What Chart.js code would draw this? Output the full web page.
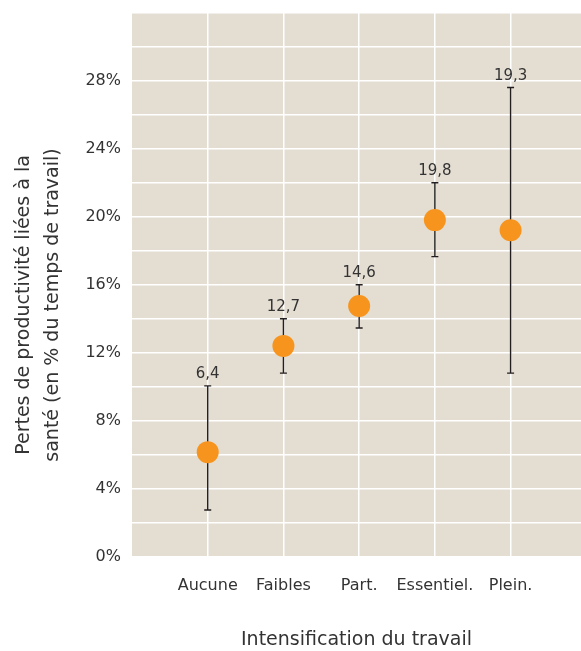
<!DOCTYPE html>
<html lang="fr">
<head>
<meta charset="utf-8">
<script src="https://cdn.jsdelivr.net/npm/chart.js@4.4.0/dist/chart.umd.min.js"></script>
<style>
  html, body { margin: 0; padding: 0; background: #fff; }
  #wrap { width: 581px; height: 651px; }
</style>
</head>
<body>
<div id="wrap"><canvas id="pertes"></canvas></div>
<script>
// valeurs (en %)
const categories = ["Aucune", "Faibles", "Part.", "Essentiel.", "Plein."];
const valeurs = [6.15, 12.4, 14.75, 19.8, 19.2];
const basses = [2.75, 10.8, 13.45, 17.65, 10.8];
const hautes = [10.05, 14.0, 16.0, 22.0, 27.6];
const etiquettes = ["6,4", "12,7", "14,6", "19,8", "19,3"];
const yLabels = [0, 4, 8, 12, 16, 20, 24, 28];

const texte = "#333333";
const police = "'DejaVu Sans', sans-serif";

const fond = {
  id: "fond",
  beforeDraw(chart) {
    const { ctx, chartArea: a } = chart;
    ctx.save();
    ctx.fillStyle = "#e4ddd2";
    ctx.fillRect(a.left, a.top, a.right - a.left, a.bottom - a.top);
    ctx.restore();
  },
};

// barres d'erreur + etiquettes au-dessus
const barres = {
  id: "barres",
  beforeDatasetsDraw(chart) {
    const { ctx, scales: { x, y } } = chart;
    ctx.save();
    ctx.strokeStyle = "#231f20";
    ctx.lineWidth = 1.4;
    categories.forEach((c, i) => {
      const px = x.getPixelForValue(i + 1);
      const yh = y.getPixelForValue(hautes[i]);
      const yb = y.getPixelForValue(basses[i]);
      ctx.beginPath();
      ctx.moveTo(px, yb);
      ctx.lineTo(px, yh);
      ctx.moveTo(px - 3.5, yh);
      ctx.lineTo(px + 3.5, yh);
      ctx.moveTo(px - 3.5, yb);
      ctx.lineTo(px + 3.5, yb);
      ctx.stroke();
      ctx.fillStyle = texte;
      ctx.font = "15px " + police;
      ctx.textAlign = "center";
      ctx.textBaseline = "alphabetic";
      ctx.fillText(etiquettes[i], px, yh - 8);
    });
    ctx.restore();
  },
  afterDraw(chart) {
    const { ctx } = chart;
    ctx.save();
    ctx.fillStyle = texte;
    ctx.font = "19px " + police;
    ctx.textAlign = "center";
    ctx.textBaseline = "middle";
    ctx.translate(0, 305);
    ctx.rotate(-Math.PI / 2);
    ctx.fillText("Pertes de productivité liées à la", 0, 24);
    ctx.fillText("santé (en % du temps de travail)", 0, 53);
    ctx.restore();
  },
};

new Chart(document.getElementById("pertes"), {
  type: "scatter",
  data: {
    datasets: [
      {
        data: categories.map((c, i) => ({ x: i + 1, y: valeurs[i] })),
        backgroundColor: "#f7941d",
        borderWidth: 0,
        pointRadius: 11,
        pointHoverRadius: 11,
      },
    ],
  },
  options: {
    responsive: true,
    maintainAspectRatio: false,
    animation: false,
    layout: { autoPadding: false, padding: { top: 12.7, left: 0, right: 0, bottom: 0 } },
    plugins: {
      legend: { display: false },
      tooltip: { enabled: false },
    },
    scales: {
      x: {
        type: "linear",
        min: 0,
        max: 5.93,
        afterBuildTicks: (s) => {
          s.ticks = [1, 2, 3, 4, 5].map((v) => ({ value: v }));
        },
        afterFit: (s) => {
          s.height = 94.3;
          s.paddingLeft = 0;
          s.paddingRight = 0;
        },
        grid: { color: "#ffffff", lineWidth: 1.5, drawTicks: false },
        border: { display: false },
        ticks: {
          callback: (v) => categories[v - 1] || "",
          autoSkip: false,
          maxRotation: 0,
          padding: 20,
          color: texte,
          font: { family: police, size: 16 },
        },
        title: {
          display: true,
          text: "Intensification du travail",
          color: texte,
          font: { family: police, size: 19 },
          padding: { top: 0, bottom: 0 },
        },
      },
      y: {
        min: 0,
        max: 32,
        afterFit: (s) => {
          s.width = 132;
          s.paddingTop = 0;
          s.paddingBottom = 0;
        },
        grid: { color: "#ffffff", lineWidth: 1.5, drawTicks: false },
        border: { display: false },
        ticks: {
          stepSize: 2,
          callback: (v) => (yLabels.includes(v) ? v + "%" : ""),
          padding: 11,
          color: texte,
          font: { family: police, size: 16 },
        },
      },
    },
  },
  plugins: [fond, barres],
});
</script>
</body>
</html>
